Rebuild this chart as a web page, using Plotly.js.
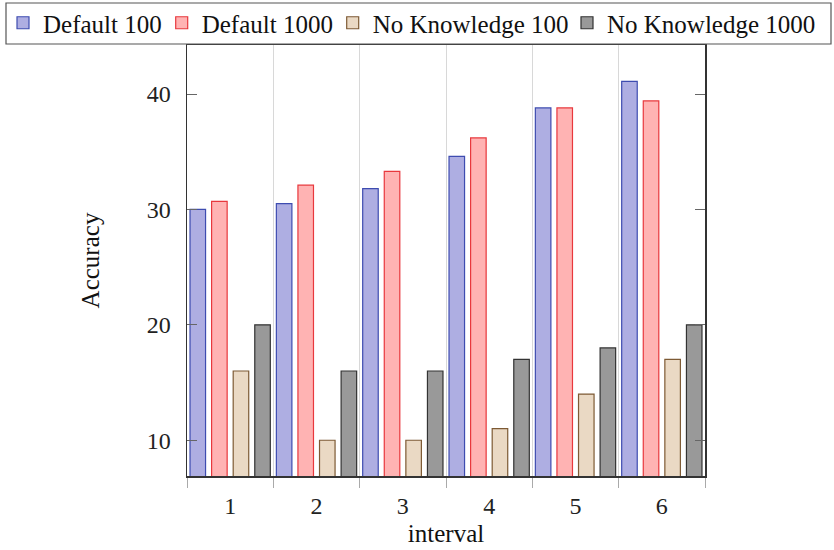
<!DOCTYPE html>
<html>
<head>
<meta charset="utf-8">
<script src="https://cdn.plot.ly/plotly-3.0.1.min.js"></script>
<style>html,body{margin:0;padding:0;background:#fff;}#chart{width:834px;height:550px;}</style>
</head>
<body>
<div id="chart"></div>
<script>
const intervals = [1, 2, 3, 4, 5, 6];
const default100 = [30.0, 30.5, 31.8, 34.6, 38.8, 41.1];
const default1000 = [30.7, 32.1, 33.3, 36.2, 38.8, 39.4];
const noKnowledge100 = [16, 10, 10, 11, 14, 17];
const noKnowledge1000 = [20, 16, 16, 17, 18, 20];
const seriesNames = ['Default 100', 'Default 1000', 'No Knowledge 100', 'No Knowledge 1000'];
const yTicks = [10, 20, 30, 40];
const boundaries = [0.5, 1.5, 2.5, 3.5, 4.5, 5.5, 6.5];

const fills = ['#aeaee2', '#ffb3b3', '#ead9c4', '#999999'];
const edges = ['#3e4cb0', '#e8383d', '#7d5a34', '#333333'];
const values = [default100, default1000, noKnowledge100, noKnowledge1000];
const legendIds = ['legend', 'legend2', 'legend3', 'legend4'];
const legendLeftPx = [3, 161.7, 332.7, 567];

const W = 834, H = 550;
const M = {l: 187, r: 129, t: 45, b: 74};
const plotW = W - M.l - M.r, plotH = H - M.t - M.b;

const traces = values.map((v, i) => ({
  type: 'bar', x: intervals, y: v, name: seriesNames[i], legend: legendIds[i],
  marker: {color: fills[i], line: {color: edges[i], width: 1.2}},
  hoverinfo: 'skip'
}));

const font = 'Liberation Serif, Times New Roman, serif';
const layout = {
  width: W, height: H,
  margin: {l: M.l, r: M.r, t: M.t, b: M.b, autoexpand: false},
  paper_bgcolor: '#fff', plot_bgcolor: '#fff',
  barmode: 'group', bargap: 0, bargroupgap: 0.28,
  font: {family: font, size: 24, color: '#222'},
  showlegend: true,
  xaxis: {
    range: [0.5, 6.5], tickvals: intervals, ticktext: intervals.map(String),
    ticks: '', showgrid: false, zeroline: false,
    showline: true, linecolor: '#333', linewidth: 1.5, mirror: true,
    ticklabelstandoff: 8,
    tickfont: {family: font, size: 24, color: '#222'},
    minor: {tickvals: boundaries, ticks: 'outside', ticklen: 10, tickcolor: '#aaa', tickwidth: 1,
            showgrid: true, gridcolor: '#d8d8d8', gridwidth: 1},
    title: {text: 'interval', font: {family: font, size: 25, color: '#111'}, standoff: 6}
  },
  yaxis: {
    range: [6.9, 44.25], tickvals: yTicks, ticks: 'inside', ticklen: 10, tickcolor: '#666', tickwidth: 1,
    showgrid: false, zeroline: false,
    showline: true, linecolor: '#333', linewidth: 1.5, mirror: 'ticks',
    ticklabelstandoff: 10,
    tickfont: {family: font, size: 24, color: '#222'},
    title: {text: 'Accuracy', font: {family: font, size: 25, color: '#111'}, standoff: 40}
  },
  shapes: [{
    type: 'rect', xref: 'paper', yref: 'paper', layer: 'above',
    x0: (6 - M.l) / plotW, x1: (831 - M.l) / plotW,
    y0: 1 + (M.t - 44) / plotH, y1: 1 + (M.t - 3) / plotH,
    line: {color: '#555', width: 1.2}, fillcolor: 'rgba(0,0,0,0)'
  }]
};
legendIds.forEach((id, i) => {
  layout[id] = {
    orientation: 'h', xref: 'container', yref: 'container',
    x: legendLeftPx[i] / W, xanchor: 'left', y: 1 - 23 / H, yanchor: 'middle',
    borderwidth: 0, bgcolor: 'rgba(0,0,0,0)',
    font: {family: font, size: 25, color: '#111'}, itemwidth: 30
  };
});
Plotly.newPlot('chart', traces, layout, {staticPlot: true});
</script>
</body>
</html>
